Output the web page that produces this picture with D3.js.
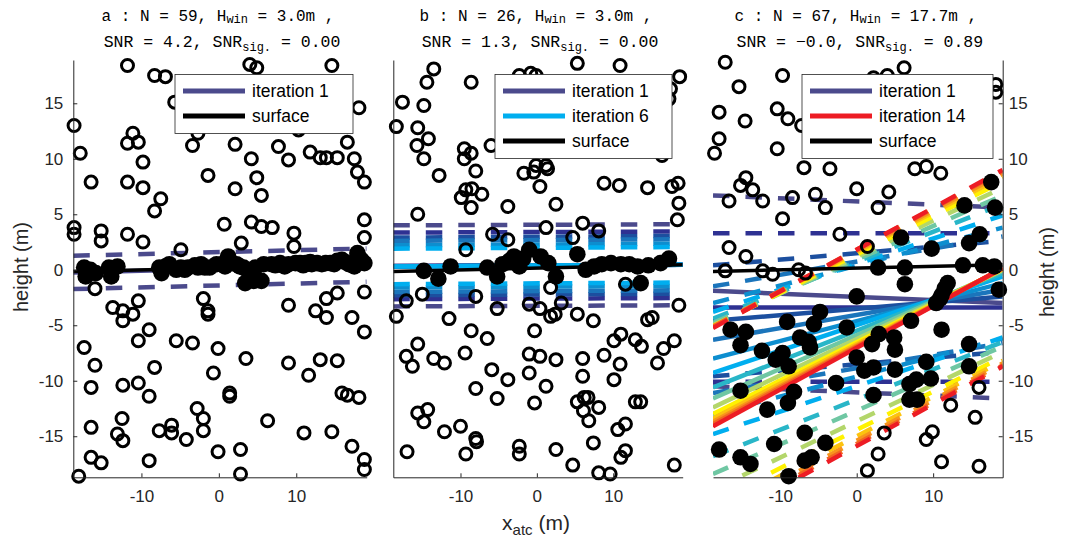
<!DOCTYPE html>
<html>
<head>
<meta charset="utf-8">
<script src="https://cdn.jsdelivr.net/npm/d3@7"></script>
<style>
  body { margin: 0; background: #fff; }
</style>
</head>
<body>
<div id="chart"></div>
<script>
const width = 1069;
const height = 543;

// shared axis data
const xDomain = [-18.8, 19.1];
const yDomain = [-18.7, 18.9];
const xTicks = [-10, 0, 10];
const yTicks = [-15, -10, -5, 0, 5, 10, 15];
const surfaceY = [-0.15, 0.45]; // surface height at the two x limits

// one colour per iteration
const iterColors = ["#4b4a8c", "#2e3192", "#1c4f9f", "#1b75bb", "#0d8ecf", "#00aeef", "#29b6c8",
                    "#6fc7a3", "#b3d66b", "#fff200", "#fcc30f", "#f7941d", "#f26522", "#ed1c24"];

// titles
const panelLetters = ["a", "b", "c"];
const titleN = [59, 26, 67];
const titleHwin = ["3.0", "3.0", "17.7"];
const titleSNR = ["4.2", "1.3", "\u22120.0"];
const titleSig = ["0.00", "0.00", "0.89"];

// panel a
const aNoise = [[-11.8,18.4],[4.0,18.5],[4.9,18.2],[14.6,18.4],[-8.3,17.5],[-6.9,17.4],[-5.7,15.1],[18.1,14.6],[-18.7,13.0],[-11.1,12.3],[-11.8,11.4],[-10.4,11.5],[-2.7,12.3],[-3.4,11.2],[2.1,11.3],[7.7,11.1],[10.3,12.6],[16.6,11.5],[-17.9,10.5],[4.2,10.0],[9.0,9.9],[11.8,10.6],[13.1,10.1],[13.9,10.1],[15.3,10.1],[17.5,10.0],[17.9,8.8],[-1.4,8.5],[-16.5,7.9],[-11.8,7.9],[4.9,8.3],[18.8,7.9],[-9.8,9.7],[-9.8,7.4],[2.1,7.3],[5.5,6.7],[-7.5,6.4],[-8.3,5.3],[-18.7,3.8],[-18.7,3.2],[-15.2,3.5],[-15.2,2.6],[-11.8,3.2],[-9.8,2.5],[0.7,4.1],[4.2,4.3],[5.5,3.9],[6.9,3.8],[9.7,3.3],[9.7,2.1],[18.8,4.5],[18.8,2.9],[2.9,2.4],[-4.9,1.8],
  [-16.0,-1.7],[18.8,-2.0],[-13.7,-3.4],[-12.4,-3.7],[-12.4,-4.6],[-11.1,-4.0],[-10.4,-2.8],[-2.0,-2.6],[-1.4,-3.7],[-1.4,-4.0],[9.0,-3.2],[12.5,-3.7],[13.9,-2.6],[15.3,-2.1],[13.9,-4.3],[17.2,-4.3],[18.8,-5.6],[-9.0,-5.4],[-10.4,-6.4],[-5.5,-6.4],[-3.4,-6.6],[-17.4,-7.0],[-0.1,-7.1],[3.5,-8.0],[-16.0,-8.6],[-8.3,-8.8],[9.0,-8.4],[13.1,-8.1],[15.3,-8.2],[-0.7,-9.3],[11.6,-9.5],[-16.5,-10.6],[-12.4,-10.4],[-10.4,-10.2],[-9.0,-11.4],[1.4,-11.1],[1.4,-11.4],[15.9,-11.1],[16.6,-11.3],[18.1,-11.5],[-2.8,-12.5],[-2.0,-13.4],[-12.5,-13.4],[6.3,-13.6],[-16.5,-14.2],[-13.1,-14.8],[-12.4,-15.4],[-7.7,-14.5],[-6.1,-14.0],[-6.1,-14.7],[-4.2,-15.3],[-2.0,-14.5],[11.0,-14.7],[14.6,-14.6],[17.2,-15.9],[18.8,-17.1],[18.8,-18.0],[-16.5,-16.9],[-15.2,-17.4],[-9.0,-17.2],[-0.1,-16.4],[2.8,-16.2],[2.8,-18.4],[-18.1,-18.6]];
const aSignal = [[-17.4,0.2],[-17.2,-0.6],[-15.9,-0.3],[-14.2,0.2],[-13.9,-0.6],[-13.1,0.3],[-7.7,0.2],[-7.4,-0.3],[-6.4,0.5],[-5.5,0.0],[-4.9,0.2],[-4.0,0.2],[-3.1,0.4],[-2.3,0.5],[-1.8,0.2],[-1.2,0.2],[-0.3,0.5],[0.4,0.5],[1.2,1.2],[1.7,0.6],[2.3,0.5],[3.2,0.2],[3.4,-1.2],[4.5,-1.0],[4.7,0.2],[5.5,-1.0],[5.8,0.5],[6.8,0.5],[7.9,0.6],[9.0,0.5],[9.9,0.6],[10.5,0.6],[11.2,0.6],[12.0,0.5],[12.7,0.6],[13.8,0.6],[14.4,0.6],[15.3,0.8],[15.9,0.9],[16.8,0.5],[17.5,0.3],[17.9,1.5],[18.1,1.1],[18.8,0.6],
  [-16.6,0.0],[-6.9,0.3],[-4.4,0.0],[-2.7,0.2],[0.8,0.3],[2.7,0.3],[4.0,-0.5],[7.3,0.4],[8.5,0.3],[10.9,0.4],[11.8,0.7],[13.3,0.5],[14.9,0.5],[16.3,0.7],[18.4,0.9]];
const aCenterL = [-0.24];
const aCenterR = [0.42];
const aHalf = [1.5];

// panel b
const bNoise = [[-13.5,18.1],[-14.4,16.9],[-17.6,15.1],[-14.8,14.8],[-18.4,12.9],[-15.6,12.8],[-15.7,11.2],[-14.2,11.8],[-14.8,10.0],[-12.8,8.5],[-8.6,16.9],[-9.5,10.9],[-8.6,10.5],[-9.5,10.0],[-8.0,8.9],[-9.9,6.5],[-9.3,7.2],[-8.5,7.3],[-7.2,6.8],[-8.6,5.6],[-3.8,5.7],[-6.0,11.2],[-1.7,8.7],[-0.1,9.4],[-0.4,8.8],[1.2,9.4],[1.4,9.1],[0.4,7.5],[2.5,5.9],[1.2,3.8],[6.0,4.2],[8.1,3.5],[4.7,2.9],[-5.8,3.2],[-3.8,2.7],[-15.6,5.0],[5.3,18.6],[10.9,18.4],[-2.3,17.5],[-0.8,17.7],[-0.1,17.5],[18.7,17.4],[8.8,7.8],[10.8,7.6],[14.5,7.4],[17.7,7.5],[18.5,7.8],[18.6,6.0],[18.4,4.5],[-9.3,1.8],[17.5,16.3],[17.3,15.4],[16.4,10.3],[11.6,-1.3],[1.8,-1.6],[-8.0,-2.4],[-15.0,-2.2],[-17.1,-2.8],
  [-18.4,-4.2],[-11.5,-4.4],[-5.2,-3.5],[-1.0,-3.1],[0.4,-3.5],[1.8,-4.2],[2.4,-4.0],[3.2,-3.0],[5.3,-4.0],[7.4,-4.6],[-0.3,-5.5],[-8.6,-5.5],[-6.5,-6.2],[-15.6,-6.7],[-17.1,-7.8],[-16.3,-8.7],[-13.5,-8.0],[-12.1,-8.4],[-9.4,-7.5],[-5.9,-9.0],[-3.8,-9.9],[-1.0,-7.6],[0.4,-7.8],[2.5,-8.1],[-1.0,-9.3],[1.2,-10.5],[-0.3,-12.0],[-5.2,-11.6],[-8.0,-10.7],[6.0,-8.0],[6.0,-9.6],[8.8,-7.7],[10.9,-8.5],[10.1,-9.9],[10.1,-6.4],[11.0,-5.8],[12.9,-6.3],[13.7,-6.9],[14.5,-4.5],[15.1,-4.3],[16.6,-7.1],[18.0,-6.4],[15.8,-8.4],[18.6,-3.2],[5.3,-11.9],[6.2,-11.5],[6.7,-11.5],[6.1,-12.7],[6.8,-13.6],[8.1,-12.4],[12.9,-11.9],[13.6,-11.9],[-15.6,-12.9],[-14.3,-12.6],[-14.8,-13.7],[-12.1,-14.6],[-10.0,-14.1],[-8.0,-15.2],[-7.9,-15.5],[-2.3,-15.9],[-2.3,-16.6],[2.5,-16.2],[7.4,-15.6],[10.6,-14.4],[11.6,-13.9],[11.0,-16.9],[11.6,-16.3],[-17.0,-16.4],[-9.3,-16.6],[4.7,-17.6],[8.1,-18.3],[9.6,-18.4],[18.0,-17.6]];
const bSignal = [[-14.8,-0.1],[-12.9,-0.8],[-11.3,0.3],[-6.5,0.2],[-5.2,-0.6],[-4.5,0.5],[-3.0,1.2],[-2.3,0.3],[-1.0,1.8],[0.5,1.2],[2.5,-0.6],[5.3,1.4],[6.4,0.0],[7.5,0.3],[9.7,0.6],[11.0,0.5],[12.1,0.5],[13.2,0.3],[13.6,-1.2],[16.2,0.6],[17.3,1.0],[-3.6,0.8],[-1.8,1.0],[1.5,0.6],[8.5,0.5],[14.6,0.4]];
const bCenterL = [0.35, 0.35, 0.3, 0.3, 0.3, 0.3];
const bCenterR = [0.45, 0.45, 0.45, 0.45, 0.45, 0.45];
const bHalf = [3.65, 3.0, 2.6, 2.3, 1.9, 1.6];

// panel c
const cNoise = [[-17.2,18.7],[-15.4,16.5],[-9.7,17.5],[-18.0,14.2],[-14.6,13.4],[-18.0,11.8],[-10.4,14.5],[-9.0,13.6],[-10.4,10.9],[-18.6,10.5],[-7.2,13.0],[2.2,17.3],[4.0,17.5],[6.2,18.2],[18.2,16.7],[18.2,16.0],[-6.9,9.2],[-3.5,9.1],[7.6,9.1],[9.1,9.3],[11.0,8.7],[-14.5,8.3],[-15.2,7.6],[-13.6,7.2],[-16.7,6.2],[-12.3,6.2],[-5.4,6.8],[-8.4,6.5],[-4.1,5.6],[0.0,7.3],[2.8,5.6],[4.2,7.0],[-9.7,4.6],[-2.2,3.2],[-16.7,2.0],[-14.5,1.2],[1.4,2.1],[-17.2,-0.1],[-12.3,-0.1],[-11.0,-0.4],[-7.6,0.0],[-6.7,-0.3],
  [16.0,-10.6],[12.3,-12.2],[15.5,-13.3],[9.9,-14.6],[9.1,-15.3],[3.6,-14.7],[2.8,-16.6],[1.4,-18.1],[11.1,-17.3],[16.0,-17.7]];
const cSignal = [[17.6,7.9],[14.1,5.8],[18.1,5.6],[5.8,2.9],[16.1,3.2],[14.7,2.4],[9.8,1.9],[2.8,0.2],[6.3,0.2],[13.9,0.4],[16.5,0.4],[18.0,0.3],[6.3,-1.3],[11.9,-1.2],[0.0,-2.4],[18.6,-1.8],[11.1,-2.3],[10.4,-3.0],[-9.1,-4.7],[-4.8,-3.8],[-5.6,-4.9],[-14.5,-5.6],[-16.5,-5.4],[-15.2,-6.8],[-1.3,-5.2],[-7.4,-6.1],[-6.3,-6.5],[-6.1,-7.0],[-12.4,-7.3],[-9.7,-7.5],[-10.6,-8.1],[-8.9,-8.7],[2.9,-5.8],[2.0,-6.7],[4.9,-6.1],[5.0,-7.2],[7.1,-4.6],[11.1,-5.4],[14.7,-6.7],[0.0,-7.9],[1.0,-9.1],[2.2,-8.8],[5.0,-9.0],[9.1,-8.3],[9.7,-9.8],[7.8,-9.9],[6.9,-10.3],[6.9,-11.7],[7.9,-11.7],[2.2,-11.3],[-2.7,-10.2],[14.7,-8.7],[-8.2,-11.0],[-9.0,-12.0],[-11.7,-12.6],[-15.2,-10.9],[-18.0,-16.2],[-15.2,-16.9],[-13.9,-17.5],[-10.8,-15.7],[-6.8,-14.7],[-4.1,-15.6],[-6.8,-17.2],[-5.9,-16.9],[-8.9,-18.6],[11.5,-1.7],[10.9,-2.6]];
const cCenterL = [-1.9, -3.4, -4.6, -6.3, -8.0, -9.3, -10.6, -11.6, -12.4, -13.0, -13.4, -13.7, -13.9, -14.1];
const cCenterR = [-3.0, -3.4, -2.4, -1.8, -1.2, -0.6, -0.3, -0.1, 0.0, 0.05, 0.1, 0.12, 0.14, 0.15];
const cHalf = [8.6, 6.7, 5.0, 4.8, 5.0, 5.5, 6.2, 6.8, 7.4, 7.9, 8.3, 8.55, 8.75, 8.85];

const panels = [
    { key: "a", x0: 73.3, x1: 366.7, noise: aNoise, signal: aSignal, cL: aCenterL, cR: aCenterR, half: aHalf,
      yAxis: "left", legend: [0], legendX: 175, legendW: 178 },
    { key: "b", x0: 393.3, x1: 682.7, noise: bNoise, signal: bSignal, cL: bCenterL, cR: bCenterR, half: bHalf,
      yAxis: "line", legend: [0, 5], legendX: 495, legendW: 177 },
    { key: "c", x0: 713, x1: 1002.7, noise: cNoise, signal: cSignal, cL: cCenterL, cR: cCenterR, half: cHalf,
      yAxis: "right", legend: [0, 13], legendX: 802, legendW: 191 }
];

const axisColor = "#262626";
const tickFont = "'Liberation Sans', Arial, Helvetica, sans-serif";

const svg = d3.select("#chart")
    .append("svg")
    .attr("width", width)
    .attr("height", height)
    .style("font-family", tickFont);

const y = d3.scaleLinear().domain(yDomain).range([477.3, 60]);

panels.forEach((p, pi) => {
    const x = d3.scaleLinear().domain(xDomain).range([p.x0, p.x1]);
    const line = d3.line().x(d => x(d[0])).y(d => y(d[1]));
    const g = svg.append("g");

    // lines get clipped at the axes box
    svg.append("clipPath")
        .attr("id", "clip-" + p.key)
        .append("rect")
        .attr("x", p.x0)
        .attr("y", y(yDomain[1]))
        .attr("width", p.x1 - p.x0)
        .attr("height", y(yDomain[0]) - y(yDomain[1]));

    const lines = g.append("g").attr("clip-path", `url(#clip-${p.key})`);

    p.cL.forEach((cl, i) => {
        const cr = p.cR[i];
        const h = p.half[i];
        const col = iterColors[i];
        [[cl + h, cr + h], [cl - h, cr - h]].forEach(([a, b]) => {
            lines.append("path")
                .attr("d", line([[xDomain[0], a], [xDomain[1], b]]))
                .attr("fill", "none")
                .attr("stroke", col)
                .attr("stroke-width", 4.5)
                .attr("stroke-dasharray", "16.5,16");
        });
        lines.append("path")
            .attr("d", line([[xDomain[0], cl], [xDomain[1], cr]]))
            .attr("fill", "none")
            .attr("stroke", col)
            .attr("stroke-width", 4.5);
    });

    // surface
    lines.append("path")
        .attr("d", line([[xDomain[0], surfaceY[0]], [xDomain[1], surfaceY[1]]]))
        .attr("fill", "none")
        .attr("stroke", "black")
        .attr("stroke-width", 3.5);

    // noise photons
    g.append("g").selectAll("circle")
        .data(p.noise)
        .enter()
        .append("circle")
        .attr("cx", d => x(d[0]))
        .attr("cy", d => y(d[1]))
        .attr("r", 6)
        .attr("fill", "none")
        .attr("stroke", "black")
        .attr("stroke-width", 3);

    // signal photons
    g.append("g").selectAll("circle")
        .data(p.signal)
        .enter()
        .append("circle")
        .attr("cx", d => x(d[0]))
        .attr("cy", d => y(d[1]))
        .attr("r", 8.3)
        .attr("fill", "black");

    // axes
    const xAxis = g.append("g")
        .attr("transform", `translate(0,${y(yDomain[0])})`)
        .call(d3.axisBottom(x).tickValues(xTicks).tickSize(-4).tickSizeOuter(0).tickPadding(13)
            .tickFormat(d => String(d)));

    let yAxis = null;
    if (p.yAxis === "left") {
        yAxis = g.append("g")
            .attr("transform", `translate(${p.x0},0)`)
            .call(d3.axisLeft(y).tickValues(yTicks).tickSize(-4).tickSizeOuter(0).tickPadding(10)
                .tickFormat(d => String(d)));
    } else if (p.yAxis === "right") {
        yAxis = g.append("g")
            .attr("transform", `translate(${p.x1},0)`)
            .call(d3.axisRight(y).tickValues(yTicks).tickSize(-4).tickSizeOuter(0).tickPadding(6)
                .tickFormat(d => String(d)));
    } else {
        yAxis = g.append("g")
            .attr("transform", `translate(${p.x0},0)`)
            .call(d3.axisLeft(y).tickValues([]).tickSizeOuter(0));
    }

    [xAxis, yAxis].forEach(ax => {
        ax.selectAll("path, line").attr("stroke", axisColor).attr("stroke-width", 1);
        ax.selectAll("text")
            .attr("fill", axisColor)
            .style("font-family", tickFont)
            .style("font-size", "17px");
    });

    // legend
    const rows = p.legend.map(i => ({ label: "iteration " + (i + 1), color: iterColors[i] }));
    rows.push({ label: "surface", color: "black" });
    const lg = g.append("g").attr("transform", `translate(${p.legendX},74.5)`);
    lg.append("rect")
        .attr("width", p.legendW)
        .attr("height", 9 + rows.length * 25)
        .attr("fill", "white")
        .attr("stroke", axisColor)
        .attr("stroke-width", 0.8);
    rows.forEach((r, i) => {
        lg.append("line")
            .attr("x1", 8).attr("x2", 70)
            .attr("y1", 16.5 + i * 25).attr("y2", 16.5 + i * 25)
            .attr("stroke", r.color)
            .attr("stroke-width", 5);
        lg.append("text")
            .attr("x", 77)
            .attr("y", 16.5 + i * 25)
            .attr("dy", "0.35em")
            .attr("fill", "black")
            .style("font-size", "17.5px")
            .text(r.label);
    });

    // title
    const cx = (p.x0 + p.x1) / 2;
    const t1 = g.append("text")
        .attr("x", cx - 2).attr("y", 21)
        .attr("text-anchor", "middle")
        .style("font-family", "'Liberation Mono', 'Courier New', monospace")
        .style("font-size", "16px")
        .attr("fill", "black");
    t1.append("tspan").text(`${panelLetters[pi]} : N = ${titleN[pi]}, H`);
    t1.append("tspan").attr("dy", 2).style("font-size", "12px").text("win");
    t1.append("tspan").attr("dy", -2).text(` = ${titleHwin[pi]}m ,`);

    const t2 = g.append("text")
        .attr("x", cx + 2).attr("y", 46.5)
        .attr("text-anchor", "middle")
        .style("font-family", "'Liberation Mono', 'Courier New', monospace")
        .style("font-size", "16.5px")
        .attr("fill", "black");
    t2.append("tspan").text(`SNR = ${titleSNR[pi]}, SNR`);
    t2.append("tspan").attr("dy", 4).style("font-size", "12px").text("sig.");
    t2.append("tspan").attr("dy", -4).text(` = ${titleSig[pi]}`);
});

// axis labels
svg.append("text")
    .attr("transform", "translate(28,267) rotate(-90)")
    .attr("text-anchor", "middle")
    .attr("fill", axisColor)
    .style("font-size", "20px")
    .text("height (m)");

svg.append("text")
    .attr("transform", "translate(1054,272) rotate(-90)")
    .attr("text-anchor", "middle")
    .attr("fill", axisColor)
    .style("font-size", "20px")
    .text("height (m)");

const xl = svg.append("text")
    .attr("x", 536).attr("y", 530)
    .attr("text-anchor", "middle")
    .attr("fill", axisColor)
    .style("font-size", "21px");
xl.append("tspan").text("x");
xl.append("tspan").attr("dy", 5).style("font-size", "15px").text("atc");
xl.append("tspan").attr("dy", -5).text(" (m)");
</script>
</body>
</html>
